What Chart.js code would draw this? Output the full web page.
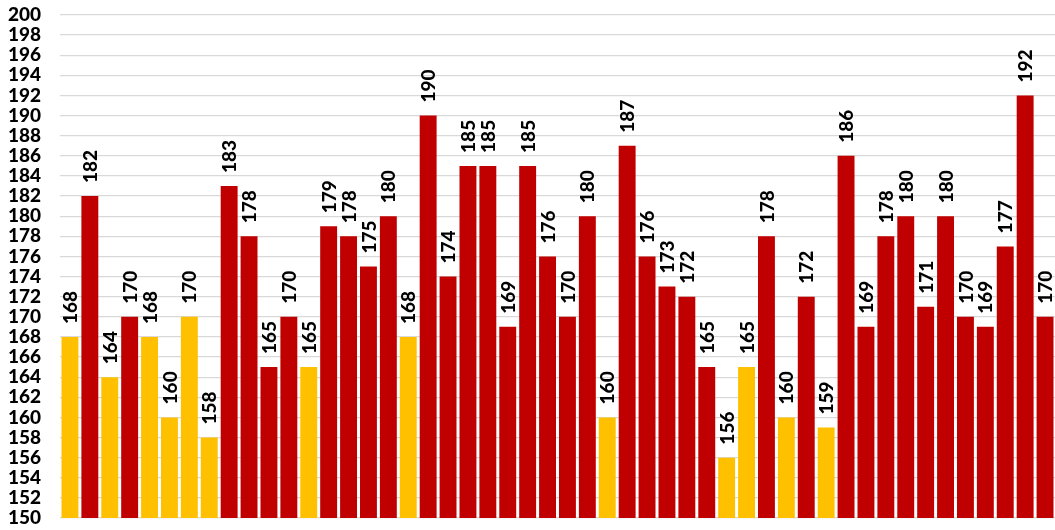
<!DOCTYPE html>
<html>
<head>
<meta charset="utf-8">
<script src="https://cdn.jsdelivr.net/npm/chart.js@4/dist/chart.umd.min.js"></script>
<style>
  html, body { margin: 0; padding: 0; background: #ffffff; }
  #wrap { width: 1055px; height: 530px; position: relative; }
</style>
</head>
<body>
<div id="wrap"><canvas id="c"></canvas></div>
<script>
// ---- data ----
const categories = Array.from({length: 50}, (_, i) => String(i + 1));
const values = [168,182,164,170,168,160,170,158,183,178,165,170,165,179,178,175,180,168,190,174,
                185,185,169,185,176,170,180,160,187,176,173,172,165,156,165,178,160,172,159,186,
                169,178,180,171,180,170,169,177,192,170];
const groups = ['Y','R','Y','R','Y','Y','Y','Y','R','R','R','R','Y','R','R','R','R','Y','R','R',
                'R','R','R','R','R','R','R','Y','R','R','R','R','R','Y','Y','R','Y','R','Y','R',
                'R','R','R','R','R','R','R','R','R','R'];
const yMin = 150, yMax = 200, yStep = 2;

const groupColors = { Y: '#FFC000', R: '#C00000' };
const FONT = 'Lato, "Open Sans", sans-serif';

const valueLabels = {
  id: 'valueLabels',
  afterDatasetsDraw(chart) {
    const ctx = chart.ctx;
    const meta = chart.getDatasetMeta(0);
    ctx.save();
    ctx.fillStyle = '#000000';
    ctx.font = '900 19px ' + FONT;
    meta.data.forEach((bar, i) => {
      ctx.save();
      ctx.translate(bar.x + 1, bar.y - 13);
      ctx.rotate(-Math.PI / 2);
      ctx.textAlign = 'left';
      ctx.textBaseline = 'middle';
      ctx.fillText(String(values[i]), 0, 0);
      ctx.restore();
    });
    ctx.restore();
  }
};

new Chart(document.getElementById('c'), {
  type: 'bar',
  data: {
    labels: categories,
    datasets: [{
      data: values,
      backgroundColor: groups.map(g => groupColors[g]),
      borderWidth: 0,
      barPercentage: 0.85,
      categoryPercentage: 1.0
    }]
  },
  options: {
    responsive: true,
    maintainAspectRatio: false,
    animation: false,
    layout: { padding: { left: 8, right: 0, top: 15, bottom: 12 } },
    plugins: { legend: { display: false }, tooltip: { enabled: false } },
    scales: {
      x: { display: false },
      y: {
        min: yMin, max: yMax,
        border: { display: false },
        grid: { color: '#d9d9d9', lineWidth: 1.3, drawTicks: false },
        ticks: {
          stepSize: yStep, autoSkip: false, padding: 19,
          color: '#000000',
          font: { family: FONT, size: 19, weight: 900 }
        },
        afterFit(scale) {
          scale.width = 52;
          scale.paddingTop = 0;
          scale.paddingBottom = 0;
        }
      }
    }
  },
  plugins: [valueLabels]
});
</script>
</body>
</html>
